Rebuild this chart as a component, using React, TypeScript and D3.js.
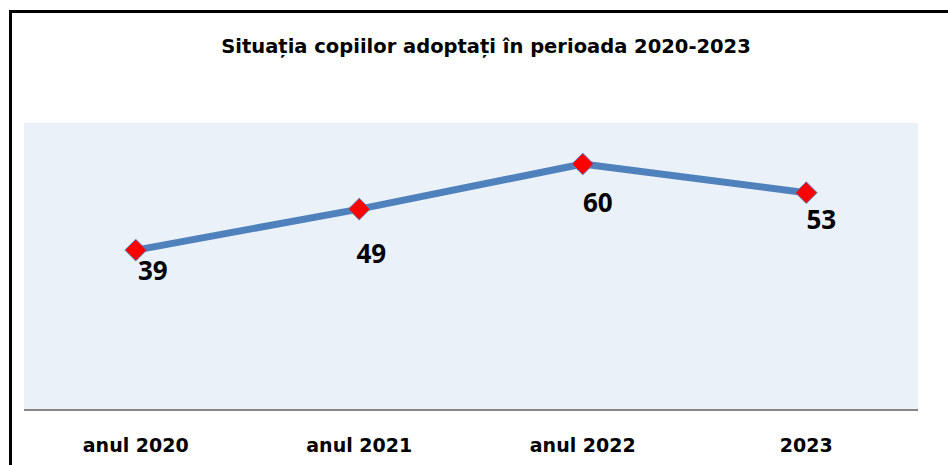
import React from "react";
import * as d3 from "d3";

const title = "Situația copiilor adoptați în perioada 2020-2023";
const categories = ["anul 2020", "anul 2021", "anul 2022", "2023"];
const values = [39, 49, 60, 53];
// hand-placed label offsets (dx, dy) as in the original sheet
const labelDx = [17, 12, 15, 15];
const labelDy = [30, 54, 48, 36];

const W = 948;
const H = 465;
const plot = { left: 24, right: 918, top: 123, bottom: 410 };

export default function App() {
  const x = d3
    .scaleBand()
    .domain(categories)
    .range([plot.left, plot.right]);

  const y = d3.scaleLinear().domain([0, 70]).range([plot.bottom, plot.top]);

  const cx = (c: string) => (x(c) as number) + x.bandwidth() / 2;

  const line = d3
    .line<number>()
    .x((_, i) => cx(categories[i]))
    .y((d) => y(d));

  const diamond = d3.symbol().type(d3.symbolDiamond2).size(300);

  return (
    <svg
      width={W}
      height={H}
      style={{ position: "absolute", left: 0, top: 0, background: "#fff" }}
    >
      {/* frame */}
      <path d={`M10.5,${H} V11.5 H${W}`} fill="none" stroke="#000" strokeWidth={3} />

      <text
        x={486}
        y={53}
        textAnchor="middle"
        fontFamily="DejaVu Sans"
        fontWeight="bold"
        fontSize={19.5}
      >
        {title}
      </text>

      <rect
        x={plot.left}
        y={plot.top}
        width={plot.right - plot.left}
        height={plot.bottom - plot.top}
        fill="#eaf1f9"
      />
      <line
        x1={plot.left}
        x2={plot.right}
        y1={plot.bottom}
        y2={plot.bottom}
        stroke="#868686"
        strokeWidth={2}
      />

      {categories.map((c) => (
        <text
          key={c}
          x={cx(c)}
          y={452}
          textAnchor="middle"
          fontFamily="DejaVu Sans"
          fontWeight="bold"
          fontSize={19}
        >
          {c}
        </text>
      ))}

      <path
        d={line(values) ?? ""}
        fill="none"
        stroke="#4f81bd"
        strokeWidth={7}
        strokeLinejoin="round"
      />

      {values.map((v, i) => (
        <path
          key={i}
          d={diamond() ?? ""}
          transform={`translate(${cx(categories[i])},${y(v)})`}
          fill="#ff0000"
          stroke="#5a84c4"
          strokeWidth={1}
        />
      ))}

      {values.map((v, i) => (
        <text
          key={i}
          x={cx(categories[i]) + labelDx[i]}
          y={y(v) + labelDy[i]}
          textAnchor="middle"
          fontFamily="Open Sans"
          fontWeight="bold"
          fontSize={26}
        >
          {v}
        </text>
      ))}
    </svg>
  );
}
